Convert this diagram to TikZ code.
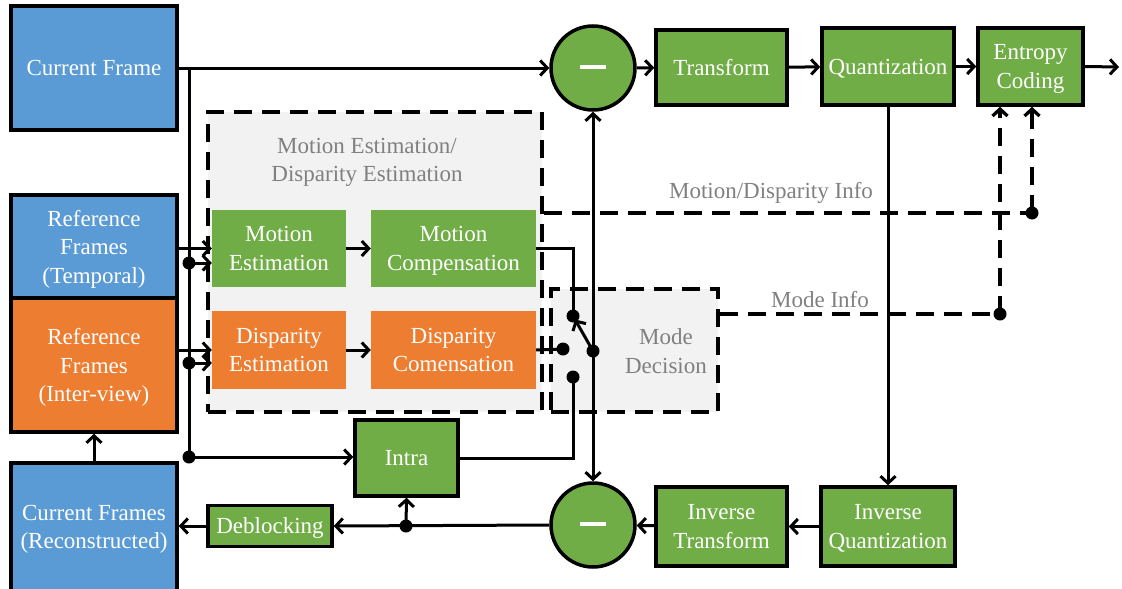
\documentclass[tikz,border=0pt]{standalone}
\usepackage{fontspec}
\setmainfont{Liberation Serif}
\usetikzlibrary{arrows.meta}
\definecolor{cblue}{HTML}{5B9BD5}
\definecolor{cgreen}{HTML}{70AD47}
\definecolor{corange}{HTML}{ED7D31}
\definecolor{cpanel}{HTML}{F2F2F2}
\definecolor{cgreytext}{HTML}{808080}
\begin{document}
\begin{tikzpicture}[x=1pt,y=-1pt,
  txt/.style={font=\fontsize{23}{28.5}\selectfont, align=center, text depth=0pt},
  blk/.style={txt, draw=black, line width=3.5pt, text=white, inner sep=0pt, anchor=center},
  soft/.style={txt, text=white, inner sep=0pt, anchor=center},
  panel/.style={draw=black, line width=3.5pt, fill=cpanel, dash pattern=on 18pt off 10pt, inner sep=0pt},
  greytxt/.style={txt, text=cgreytext},
  sum/.style={circle, draw=black, line width=3.5pt, fill=cgreen, minimum size=84pt, inner sep=0pt, text=white},
  conn/.style={line width=3pt},
  tip/.style={-{Straight Barb[length=7pt,width=15pt]}},
  arr/.style={conn, tip},
  dsh/.style={conn, line width=3.3pt, dash pattern=on 18pt off 10pt},
  junction/.style={fill=black}
]
\useasboundingbox (0,0) rectangle (1122,589);

% frame buffers
\node[blk, fill=cblue, minimum width=166pt, minimum height=124pt] (cur) at (94,68) {Current Frame};
\node[blk, fill=cblue, minimum width=166pt, minimum height=103pt] (reft) at (94,246.5) {Reference\\Frames\\(Temporal)};
\node[blk, fill=corange, minimum width=166pt, minimum height=134pt] (refi) at (94,365) {Reference\\Frames\\(Inter-view)};
\node[blk, fill=cblue, minimum width=166pt, minimum height=128pt] (recon) at (94,527) {Current Frames\\(Reconstructed)};

% estimation / compensation panel
\node[panel, minimum width=334pt, minimum height=300pt] (mebox) at (375,262) {};
\node[greytxt] (metitle) at (367,160) {Motion Estimation/\\Disparity Estimation};
\node[soft, fill=cgreen, minimum width=134pt, minimum height=77pt] (me) at (279,248.5) {Motion\\Estimation};
\node[soft, fill=cgreen, minimum width=165pt, minimum height=77pt] (mc) at (453.5,248.5) {Motion\\Compensation};
\node[soft, fill=corange, minimum width=134pt, minimum height=78pt] (de) at (279,350) {Disparity\\Estimation};
\node[soft, fill=corange, minimum width=165pt, minimum height=78pt] (dc) at (453.5,350) {Disparity\\Comensation};

% mode decision panel
\node[panel, minimum width=167pt, minimum height=123pt] (mode) at (634.5,350.5) {};
\node[greytxt] (modetxt) at (666,351) {Mode\\Decision};

\node[blk, fill=cgreen, minimum width=103pt, minimum height=76pt] (intra) at (406.5,458) {Intra};
\node[blk, fill=cgreen, minimum width=124pt, minimum height=41pt] (deb) at (270,526) {Deblocking};

% residual and reconstruction sums
\node[sum] (sub1) at (593,68) {\rule[0.35ex]{26pt}{3.5pt}};
\node[sum] (sub2) at (593,525) {\rule[0.35ex]{26pt}{3.5pt}};

% transform chain
\node[blk, fill=cgreen, minimum width=131pt, minimum height=75pt] (trans) at (721.5,67.5) {Transform};
\node[blk, fill=cgreen, minimum width=132pt, minimum height=77pt] (quant) at (888,66.5) {Quantization};
\node[blk, fill=cgreen, minimum width=105pt, minimum height=77pt] (ent) at (1030.5,66.5) {Entropy\\Coding};
\node[blk, fill=cgreen, minimum width=134pt, minimum height=79pt] (iq) at (888,526.5) {Inverse\\Quantization};
\node[blk, fill=cgreen, minimum width=131pt, minimum height=79pt] (it) at (721.5,526.5) {Inverse\\Transform};

% junctions
\coordinate (vtop) at (189,68);
\coordinate (d1) at (189,263);
\coordinate (d2) at (189,363);
\coordinate (d3) at (189,457);
\coordinate (s1) at (573,316);
\coordinate (s2) at (563,349);
\coordinate (s3) at (573,377);
\coordinate (sp) at (593,351);
\coordinate (dd) at (406,526);
\coordinate (md) at (1032,213);
\coordinate (mi) at (1000,314);
\coordinate (out) at (1119,67);

% current frame distribution
\draw[arr] (cur.east |- sub1) -- (sub1.west);
\draw[conn] (vtop) -- (d3);
\draw[arr] (reft.east |- me.west) -- (me.west);
\draw[arr] (d1) -- (d1 -| me.west);
\draw[arr] (refi.east |- de.west) -- (de.west);
\draw[arr] (d2) -- (d2 -| de.west);
\draw[arr] (d3) -- (d3 -| intra.west);
\draw[arr] (me) -- (mc);
\draw[arr] (de) -- (dc);

% prediction selector
\draw[conn] (mc.east) -| (s1);
\draw[conn] (dc.east) -- (s2);
\draw[conn] (intra.east) -| (s3);
\draw[arr, shorten >=4pt] (sp) -- (s1);
\draw[arr] (sp) -- (sub1.south);
\draw[arr] (sp) -- (sub2.north);

% forward path
\draw[arr] (sub1) -- (trans);
\draw[arr] (trans) -- (quant);
\draw[arr] (quant) -- (ent);
\draw[arr] (ent.east) -- (out);

% reconstruction loop
\draw[arr] (quant.south) -- (iq.north);
\draw[arr] (iq) -- (it);
\draw[arr] (it) -- (sub2);
\draw[arr] (sub2.west) -- (deb.east);
\draw[arr] (dd) -- (intra.south);
\draw[arr] (deb.west) -- (recon.east |- deb.west);
\draw[arr] (recon.north) -- (refi.south);

% side information
\draw[dsh] (mebox.east |- md) -- (md);
\draw[dsh, tip] (md) -- (md |- ent.south);
\draw[dsh] (mode.east |- mi) -- (mi);
\draw[dsh, tip] (mi) -- (mi |- ent.south);
\node[greytxt] (mdlabel) at (771,190) {Motion/Disparity Info};
\node[greytxt] (milabel) at (820,299) {Mode Info};

% junction dots
\foreach \p in {d1,d2,d3,s1,s2,s3,sp,dd,md,mi}
  \fill[junction] (\p) circle (6.5pt);
\end{tikzpicture}
\end{document}
